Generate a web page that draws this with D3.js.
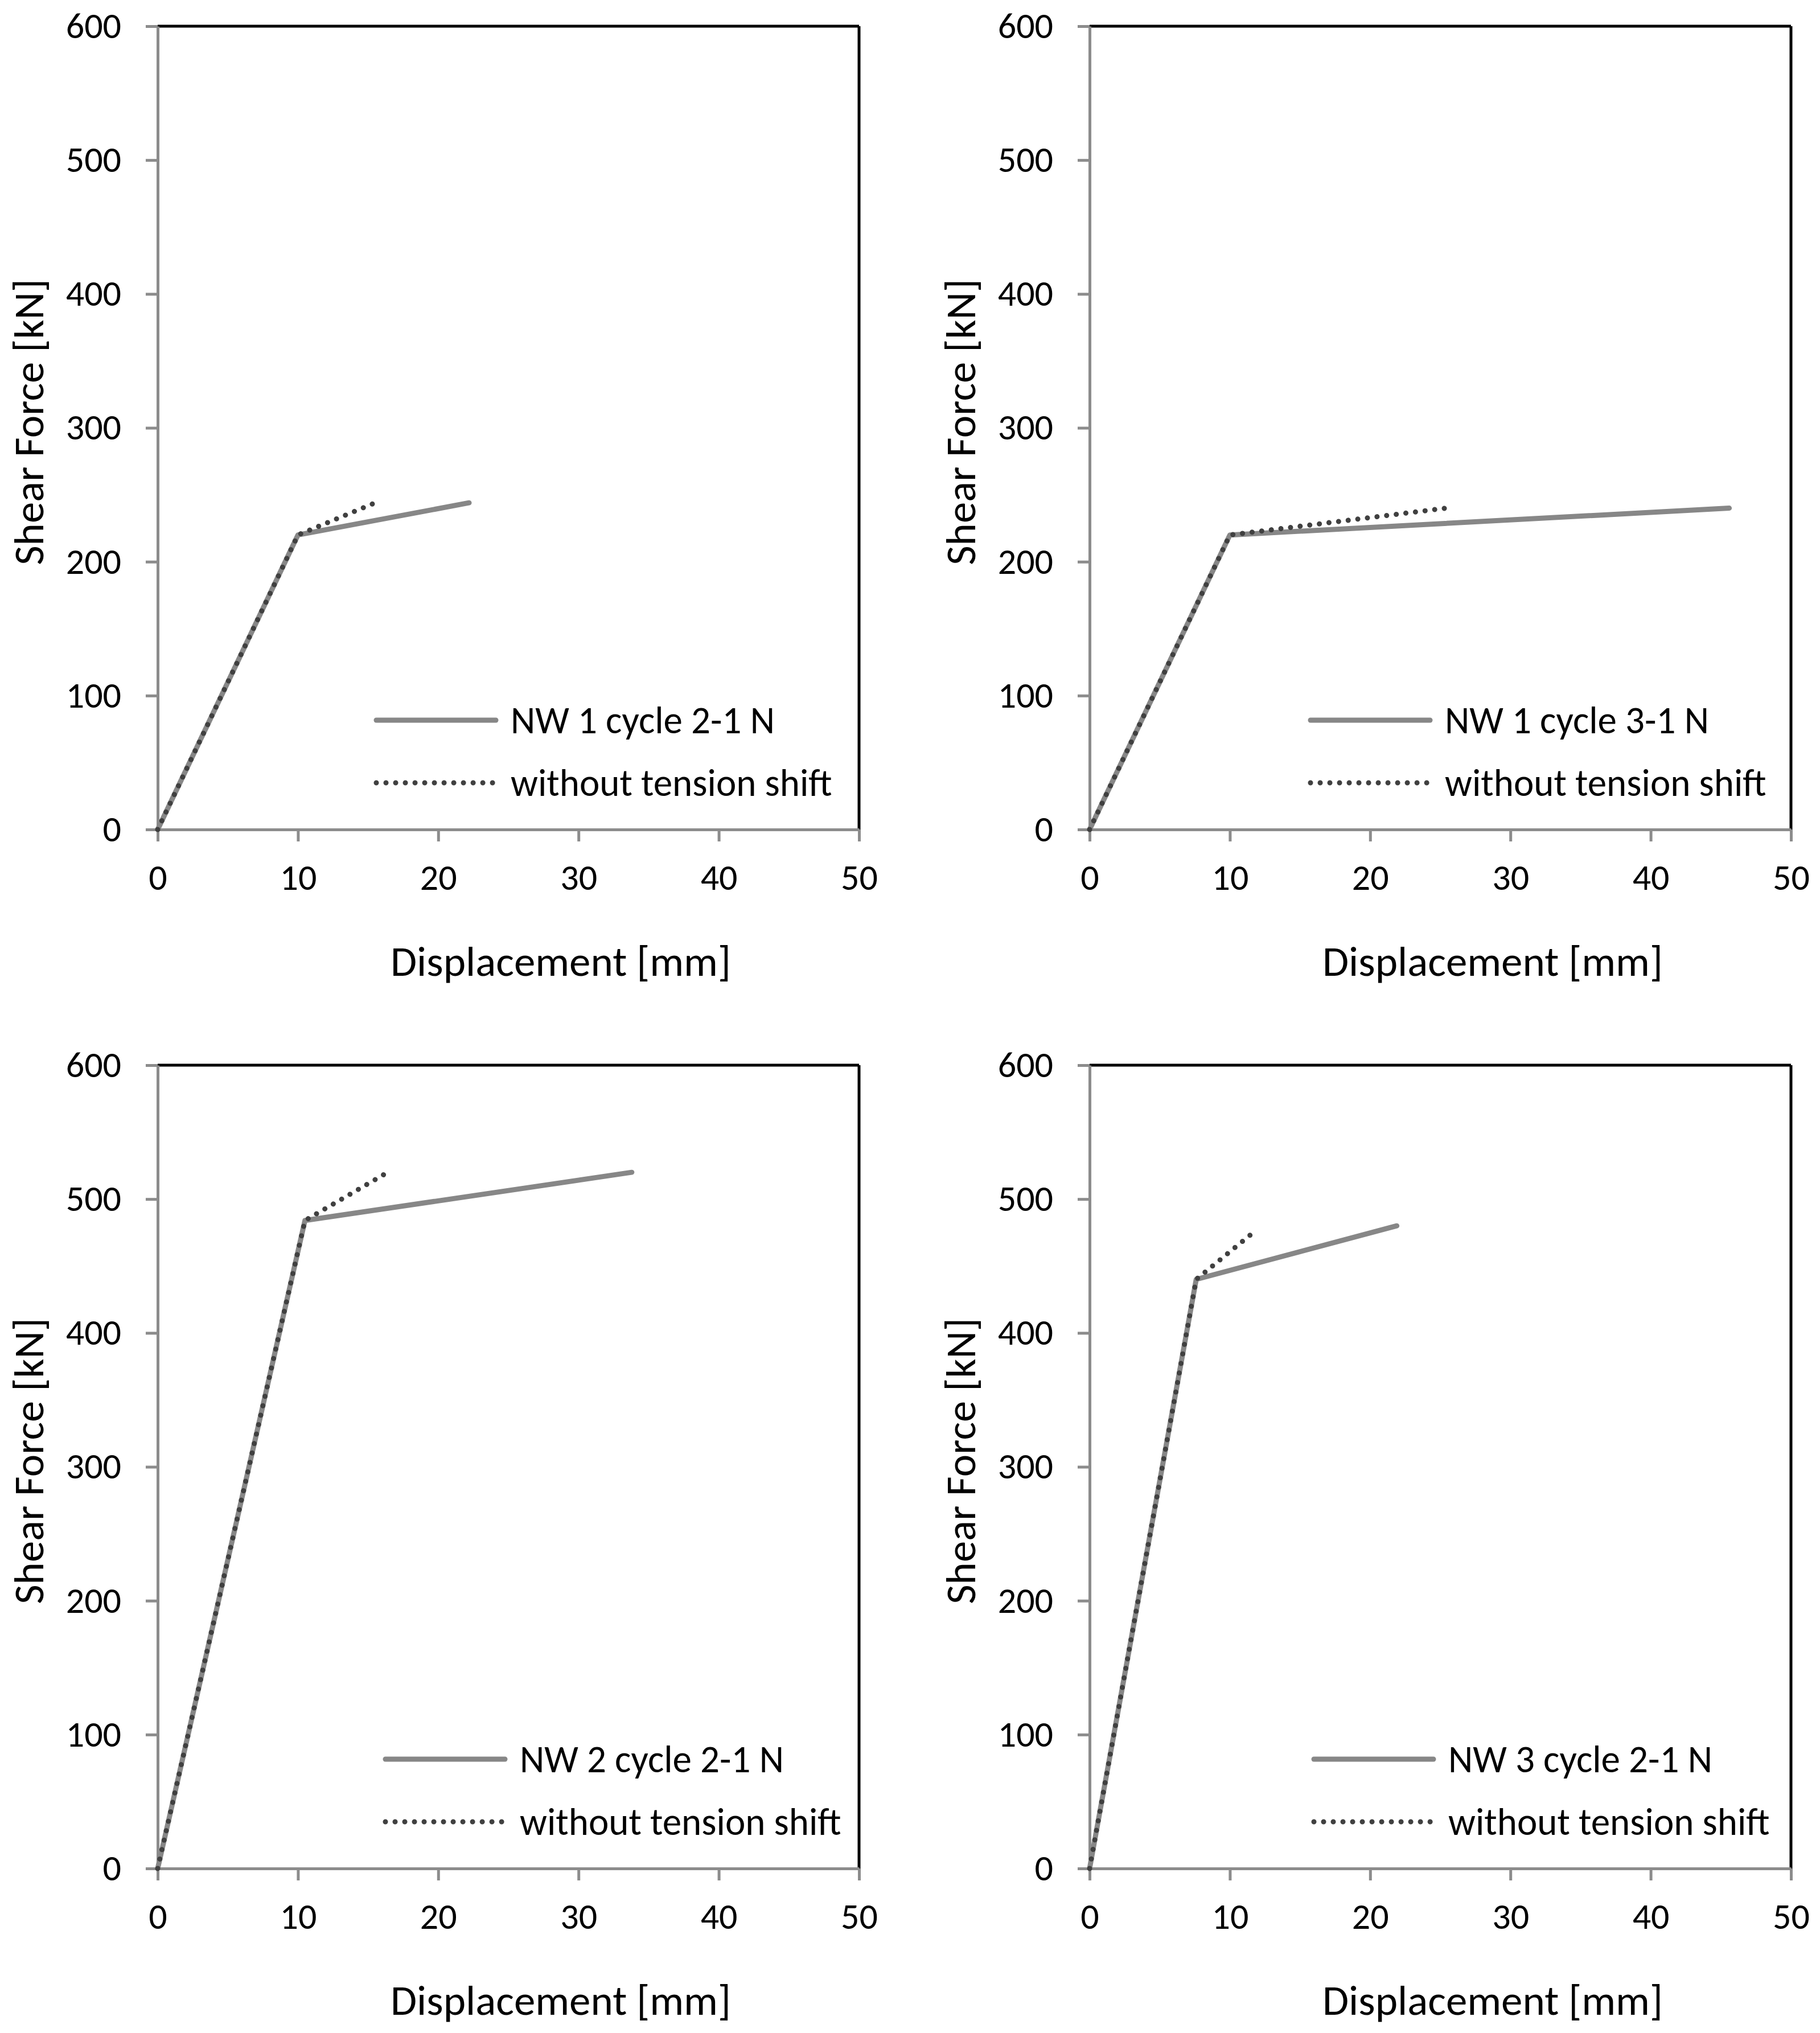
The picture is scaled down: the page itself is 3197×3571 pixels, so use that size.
<!DOCTYPE html>
<html>
<head>
<meta charset="utf-8">
<script src="https://cdn.jsdelivr.net/npm/d3@7"></script>
<style>
  body { margin: 0; background: #fff; }
  svg { display: block; font-family: Carlito, Calibri, Lato, sans-serif; }
  .tick text { fill: #000; }
</style>
</head>
<body>
<svg width="3197" height="3571"></svg>
<script>
// data
const panelNames = ["NW 1 cycle 2-1 N", "NW 1 cycle 3-1 N", "NW 2 cycle 2-1 N", "NW 3 cycle 2-1 N"]
const noShiftName = "without tension shift"
const shiftDisp = [[0, 10, 22.2], [0, 10, 45.6], [0, 10.5, 33.8], [0, 7.6, 21.9]]
const shiftForce = [[0, 220, 244], [0, 220, 240], [0, 484, 520], [0, 440, 480]]
const noShiftDisp = [[0, 10, 15.5], [0, 10, 25.4], [0, 10.5, 16.4], [0, 7.6, 11.9]]
const noShiftForce = [[0, 220, 244], [0, 220, 240], [0, 484, 520], [0, 440, 477]]
const xTicks = [0, 10, 20, 30, 40, 50]
const yTicks = [0, 100, 200, 300, 400, 500, 600]
const xTitle = "Displacement [mm]"
const yTitle = "Shear Force [kN]"

const svg = d3.select("svg")

const plotW = 1232, plotH = 1411
const origins = [[277, 46], [1914, 46], [277, 1871], [1914, 1871]]
const legendX = [384, 388, 400, 394]

const axisGray = "#8c8c8c"
const solidGray = "#878787"
const dotDark = "#404040"
const dots = "0.01,17"

const scaleX = d3.scaleLinear().domain([0, 50]).range([0, plotW])
const scaleY = d3.scaleLinear().domain([0, 600]).range([plotH, 0])

const line = d3.line()
    .x(d => scaleX(d[0]))
    .y(d => scaleY(d[1]))

panelNames.forEach((name, i) => {
    const [ox, oy] = origins[i]
    const g = svg.append("g")
        .attr("transform", `translate(${ox},${oy})`)

    // top and right frame
    g.append("line")
        .attr("x1", 0).attr("x2", plotW).attr("y1", 0).attr("y2", 0)
        .attr("stroke", "#000").attr("stroke-width", 5)
    g.append("line")
        .attr("x1", plotW).attr("x2", plotW).attr("y1", 0).attr("y2", plotH)
        .attr("stroke", "#000").attr("stroke-width", 5)

    const axisX = g.append("g")
        .attr("transform", `translate(0,${plotH})`)
        .call(d3.axisBottom(scaleX).tickValues(xTicks).tickSize(21).tickSizeOuter(0).tickPadding(40))
    const axisY = g.append("g")
        .call(d3.axisLeft(scaleY).tickValues(yTicks).tickSize(21).tickSizeOuter(0).tickPadding(43))

    ;[axisX, axisY].forEach(a => {
        a.attr("font-family", null).attr("font-size", 64)
        a.selectAll("path, line").attr("stroke", axisGray).attr("stroke-width", 5)
    })

    const solidPts = shiftDisp[i].map((x, k) => [x, shiftForce[i][k]])
    const dotPts = noShiftDisp[i].map((x, k) => [x, noShiftForce[i][k]])

    g.append("path")
        .datum(solidPts)
        .attr("d", line)
        .attr("fill", "none")
        .attr("stroke", solidGray)
        .attr("stroke-width", 9)
        .attr("stroke-linejoin", "round")
        .attr("stroke-linecap", "round")
    g.append("path")
        .datum(dotPts)
        .attr("d", line)
        .attr("fill", "none")
        .attr("stroke", dotDark)
        .attr("stroke-width", 9)
        .attr("stroke-linecap", "round")
        .attr("stroke-dasharray", dots)

    // legend
    const lg = g.append("g").attr("transform", `translate(${legendX[i]},0)`)
    const rows = [[name, 1219, solidGray, 9, null], [noShiftName, 1329, dotDark, 9, dots]]
    rows.forEach(r => {
        lg.append("line")
            .attr("x1", 0).attr("x2", 210).attr("y1", r[1]).attr("y2", r[1])
            .attr("stroke", r[2]).attr("stroke-width", r[3])
            .attr("stroke-linecap", "round")
            .attr("stroke-dasharray", r[4])
        lg.append("text")
            .attr("x", 236).attr("y", r[1])
            .attr("dy", "0.35em")
            .attr("font-size", 67)
            .text(r[0])
    })

    g.append("text")
        .attr("x", 708).attr("y", plotH + 231)
        .attr("dy", "0.35em")
        .attr("text-anchor", "middle")
        .attr("font-size", 75)
        .text(xTitle)
    g.append("text")
        .attr("transform", `translate(-227,${plotH / 2 - 10}) rotate(-90)`)
        .attr("dy", "0.35em")
        .attr("text-anchor", "middle")
        .attr("font-size", 75)
        .text(yTitle)
})
</script>
</body>
</html>
